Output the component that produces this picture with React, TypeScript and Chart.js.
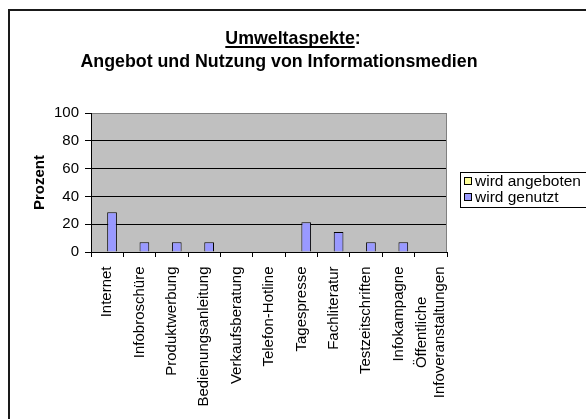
import React, { useEffect, useRef } from 'react';
import { Chart, registerables } from 'chart.js';

Chart.register(...registerables);

const categories = [
  'Internet',
  'Infobroschüre',
  'Produktwerbung',
  'Bedienungsanleitung',
  'Verkaufsberatung',
  'Telefon-Hotline',
  'Tagespresse',
  'Fachliteratur',
  'Testzeitschriften',
  'Infokampagne',
  'Öffentliche\nInfoveranstaltungen',
];
const wirdAngeboten = [0, 0, 0, 0, 0, 0, 0, 0, 0, 0, 0];
const wirdGenutzt = [28.6, 7.1, 7.1, 7.1, 0, 0, 21.4, 14.3, 7.1, 7.1, 0];
const yTicks = [0, 20, 40, 60, 80, 100];
const titleLine1 = 'Umweltaspekte';
const titleLine2 = 'Angebot und Nutzung von Informationsmedien';
const yTitle = 'Prozent';

const FONT = '"Liberation Sans", Arial, Helvetica, sans-serif';

const decorPlugin = {
  id: 'decor',
  beforeDraw(chart: any) {
    const { ctx, chartArea, width, height } = chart;
    ctx.save();
    ctx.fillStyle = '#ffffff';
    ctx.fillRect(0, 0, width, height);
    // outer chart border (top & left visible)
    ctx.fillStyle = '#1a1a1a';
    ctx.fillRect(8, 9, width - 8, 2);
    ctx.fillRect(8, 9, 2, height - 9);
    // plot background
    ctx.fillStyle = '#c0c0c0';
    ctx.fillRect(chartArea.left, chartArea.top, chartArea.right - chartArea.left, chartArea.bottom - chartArea.top);
    ctx.restore();
  },
  beforeDatasetsDraw(chart: any) {
    const { ctx, chartArea } = chart;
    ctx.save();
    ctx.strokeStyle = '#808080';
    ctx.lineWidth = 1;
    ctx.beginPath();
    ctx.moveTo(Math.round(chartArea.right) - 0.5, chartArea.top);
    ctx.lineTo(Math.round(chartArea.right) - 0.5, chartArea.bottom);
    ctx.stroke();
    ctx.restore();
  },
  afterDraw(chart: any) {
    const { ctx, chartArea } = chart;
    const xs = chart.scales.x;
    ctx.save();
    ctx.fillStyle = '#000';
    // Title
    ctx.font = `bold 17.8px ${FONT}`;
    ctx.textBaseline = 'alphabetic';
    const w1 = ctx.measureText(titleLine1).width;
    const wc = ctx.measureText(':').width;
    const x1 = 293 - (w1 + wc) / 2;
    ctx.textAlign = 'left';
    ctx.fillText(titleLine1, x1, 44);
    ctx.fillText(':', x1 + w1, 44);
    ctx.fillRect(x1, 46, w1, 2);
    ctx.textAlign = 'center';
    ctx.fillText(titleLine2, 279, 67);

    // Y axis title
    ctx.save();
    ctx.font = `bold 15px ${FONT}`;
    ctx.translate(40, (chartArea.top + chartArea.bottom) / 2);
    ctx.rotate(-Math.PI / 2);
    ctx.textAlign = 'center';
    ctx.textBaseline = 'middle';
    ctx.fillText(yTitle, 0, 0);
    ctx.restore();

    // X category labels (rotated, positioned from the library's scale)
    ctx.font = `15px ${FONT}`;
    ctx.textAlign = 'center';
    ctx.textBaseline = 'middle';
    const gap = 14.5;
    const lh = 18;
    categories.forEach((c, i) => {
      const lines = c.split('\n');
      const px = xs.getPixelForTick(i);
      const maxW = Math.max(...lines.map((l) => ctx.measureText(l).width));
      lines.forEach((ln, j) => {
        const off = (j - (lines.length - 1) / 2) * lh;
        ctx.save();
        ctx.translate(px + off, chartArea.bottom);
        ctx.rotate(-Math.PI / 2);
        ctx.fillText(ln, -(gap + maxW / 2), 0);
        ctx.restore();
      });
    });

    // Legend
    const lx = 460.5, ly = 172.5, lw = 140, lhgt = 35;
    ctx.fillStyle = '#ffffff';
    ctx.fillRect(lx, ly, lw, lhgt);
    ctx.strokeStyle = '#000';
    ctx.lineWidth = 1;
    ctx.strokeRect(lx, ly, lw, lhgt);
    ctx.font = `15.5px ${FONT}`;
    ctx.textAlign = 'left';
    ctx.textBaseline = 'middle';
    chart.data.datasets.forEach((ds: any, i: number) => {
      const yy = 181 + i * 16;
      ctx.fillStyle = ds.backgroundColor;
      ctx.fillRect(464.5, yy - 3.5, 7, 7);
      ctx.strokeStyle = '#000';
      ctx.strokeRect(464.5, yy - 3.5, 7, 7);
      ctx.fillStyle = '#000';
      ctx.fillText(ds.label, 475, yy + 1);
    });
    ctx.restore();
  },
};

export default function App() {
  const canvasRef = useRef<HTMLCanvasElement | null>(null);

  useEffect(() => {
    const canvas = canvasRef.current;
    if (!canvas) return;
    const chart = new Chart(canvas, {
      type: 'bar',
      data: {
        labels: categories,
        datasets: [
          {
            label: 'wird angeboten',
            data: wirdAngeboten,
            backgroundColor: '#ffff99',
            borderColor: '#000000',
            borderWidth: 1,
          },
          {
            label: 'wird genutzt',
            data: wirdGenutzt,
            backgroundColor: '#9999ff',
            borderColor: '#000000',
            borderWidth: 1,
          },
        ],
      },
      options: {
        responsive: false,
        animation: false,
        devicePixelRatio: 1,
        layout: { padding: { left: 0, top: 113, right: 139, bottom: 0 } },
        datasets: { bar: { categoryPercentage: 0.6, barPercentage: 1 } },
        plugins: {
          legend: { display: false },
          title: { display: false },
          tooltip: { enabled: false },
        },
        scales: {
          x: {
            grid: {
              display: true,
              drawOnChartArea: false,
              offset: true,
              drawTicks: true,
              tickLength: 5,
              color: '#000',
              tickColor: '#000',
            },
            border: { display: true, color: '#000', width: 1 },
            ticks: { display: false },
            afterFit: (s: any) => {
              s.height = 167;
            },
          },
          y: {
            min: 0,
            max: 100,
            afterBuildTicks: (s: any) => {
              s.ticks = yTicks.map((v) => ({ value: v }));
            },
            grid: {
              color: (c: any) => (c.tick && c.tick.value === 100 ? '#808080' : '#000'),
              tickColor: '#000',
              tickLength: 6,
              lineWidth: 1,
            },
            border: { display: true, color: '#000', width: 1 },
            ticks: {
              color: '#000',
              padding: 6,
              font: { family: FONT, size: 15 },
            },
            afterFit: (s: any) => {
              s.width = 91;
            },
          },
        },
      },
      plugins: [decorPlugin],
    });
    return () => chart.destroy();
  }, []);

  return (
    <div style={{ position: 'fixed', left: 0, top: 0, width: 586, height: 419, background: '#fff', overflow: 'hidden' }}>
      <canvas ref={canvasRef} width={586} height={419} style={{ display: 'block', width: 586, height: 419 }} />
    </div>
  );
}
